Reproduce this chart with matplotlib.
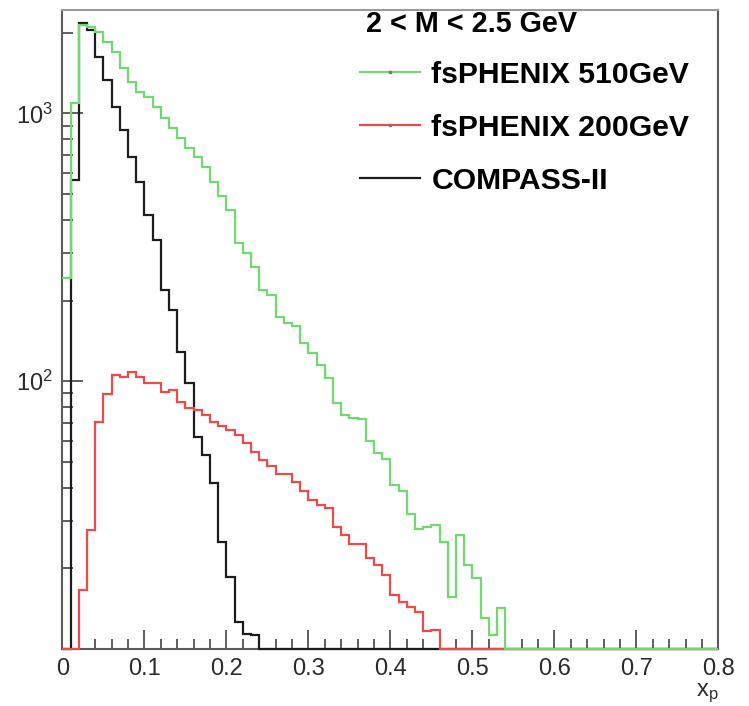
import numpy as np
import matplotlib
matplotlib.use("Agg")
import matplotlib.pyplot as plt
from matplotlib.lines import Line2D
from matplotlib.font_manager import FontProperties
from matplotlib.ticker import FixedLocator, FixedFormatter, LogLocator, NullFormatter, MultipleLocator, FuncFormatter

plt.rcParams["font.family"] = ["Liberation Sans", "DejaVu Sans"]
plt.rcParams["mathtext.fontset"] = "custom"
plt.rcParams["mathtext.rm"] = "Liberation Sans"
plt.rcParams["mathtext.it"] = "Liberation Sans:italic"
plt.rcParams["mathtext.bf"] = "Liberation Sans:bold"

# Histogram binning in x_p
x_low, x_high, n_bins = 0.0, 0.8, 80

# Bin contents (leading bins; all later bins are empty)
fsphenix_510 = [243, 1093, 2137, 2101, 2017, 1851, 1699, 1476, 1313, 1204,
                1153, 1056, 960, 882, 809, 742, 687, 630, 554, 491,
                435, 328, 301, 267, 219, 210, 173, 165, 161, 139,
                127, 115, 103, 83, 75, 73, 72, 60, 54, 51,
                41, 39, 32, 28, 28.5, 29, 25, 15.6, 26.6, 20.6,
                18.4, 13.1, 11.3, 14.2]
fsphenix_200 = [0, 0, 16.6, 27.8, 70.5, 89.9, 105, 104, 108, 104,
                98, 98, 91, 92.6, 83.7, 79.1, 77.9, 74.6, 70.3, 67.9,
                65.6, 62.9, 58.7, 54.3, 50.7, 48.1, 45.2, 45.2, 41.9, 38.8,
                35.9, 34.4, 33.5, 28.6, 26.6, 24.7, 24.7, 21.8, 20.6, 18.9,
                15.9, 15.0, 14.4, 13.7, 11.7, 11.8]
compass_ii = [0, 564, 2165, 2047, 1627, 1331, 1058, 866, 689, 555,
              417, 336, 219, 184, 129, 98, 62, 53, 41.5, 25.1,
              18.6, 12.6, 11.4, 11.25]

series_labels = ["fsPHENIX 510GeV", "fsPHENIX 200GeV", "COMPASS-II"]
legend_header = "2 < M < 2.5 GeV"
x_ticks = [0.0, 0.1, 0.2, 0.3, 0.4, 0.5, 0.6, 0.7, 0.8]
y_major = [100, 1000]
y_major_labels = [r"$\mathregular{10^{2}}$", r"$\mathregular{10^{3}}$"]
y_min, y_max = 10.0, 2420.0

GREEN = "#72d872"
RED = "#ee4a4a"
BLACK = "#1c1c1c"
AXIS_GREY = "#5a5a5a"
TEXT_GREY = "#2a2a2a"

edges = np.linspace(x_low, x_high, n_bins + 1)


def contents(vals):
    full = np.zeros(n_bins)
    full[:len(vals)] = vals
    # empty bins sit on the bottom of the log frame
    return np.where(full > 0, full, y_min)


fig = plt.figure(figsize=(7.49, 7.06), dpi=100)
ax = fig.add_axes([0.08344, 0.08074, 0.87583, 0.90439])
ax.set_yscale("log")
ax.set_xlim(x_low, x_high)
ax.set_ylim(y_min, y_max)

# drawn in this order so the later ones sit on top along the floor
for vals, col in [(compass_ii, BLACK), (fsphenix_200, RED), (fsphenix_510, GREEN)]:
    ax.stairs(contents(vals), edges, baseline=None, color=col, lw=1.6,
              zorder=3, clip_on=False)

for side in ["left", "bottom", "right", "top"]:
    ax.spines[side].set_color(AXIS_GREY)
    ax.spines[side].set_linewidth(1.5)
ax.spines["top"].set_color("#9a9a9a")

ax.xaxis.set_major_locator(FixedLocator(x_ticks))
ax.xaxis.set_major_formatter(FuncFormatter(lambda v, p: "%g" % v))
ax.xaxis.set_minor_locator(MultipleLocator(0.02))
ax.yaxis.set_major_locator(FixedLocator(y_major))
ax.yaxis.set_major_formatter(FixedFormatter(y_major_labels))
ax.yaxis.set_minor_locator(LogLocator(base=10, subs=np.arange(2, 10)))
ax.yaxis.set_minor_formatter(NullFormatter())

ax.tick_params(axis="both", which="both", direction="in", color="#333333",
               top=False, right=False, labelcolor=TEXT_GREY, labelsize=17)
ax.tick_params(axis="x", which="major", length=13.5, width=1.1, pad=6.5)
ax.tick_params(axis="x", which="minor", length=7.2, width=1.1)
ax.tick_params(axis="y", which="major", length=15, width=1.1, pad=7)
ax.tick_params(axis="y", which="minor", length=8, width=1.1)

ax.set_xlabel(r"$\mathregular{x_{p}}$", loc="right", fontsize=17,
              color=TEXT_GREY, labelpad=1)

# legend header and entries
ax.text(0.4627, 0.979, legend_header, transform=ax.transAxes, ha="left",
        va="center", fontsize=20.7, fontweight="bold", color="black")

handles = [
    Line2D([], [], color=GREEN, lw=1.6, marker="s", ms=1.6, mfc="#777", mec="#777"),
    Line2D([], [], color=RED, lw=1.6, marker="s", ms=1.6, mfc="#777", mec="#777"),
    Line2D([], [], color=BLACK, lw=1.6),
]
bold = FontProperties(family="Liberation Sans", weight="bold", size=21.7)
ax.legend(handles, series_labels, loc="upper left",
          bbox_to_anchor=(0.4535, 0.921), frameon=False, prop=bold,
          handlelength=1.98, handletextpad=0.39, labelspacing=0.83,
          borderpad=0, borderaxespad=0)

fig.savefig("out.png", dpi=100, facecolor="white")
